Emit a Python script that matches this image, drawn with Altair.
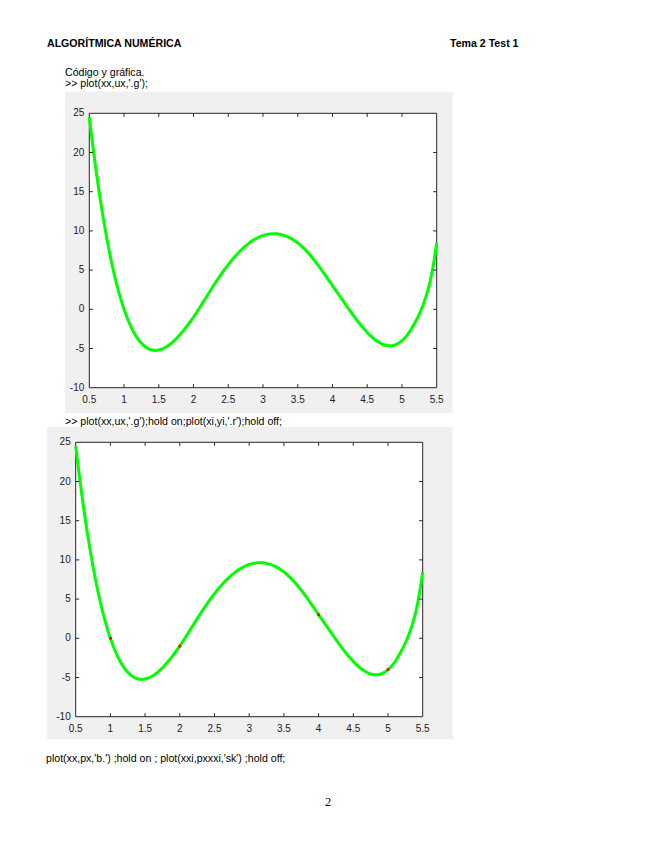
import altair as alt
import pandas as pd

# ---- data ----
xx = [round(0.5 + 0.05 * i, 2) for i in range(101)]
ux = [24.50, 20.89, 17.53, 14.46, 11.66, 9.13, 6.85, 4.81, 3.00, 1.40,
      0.00, -1.21, -2.23, -3.09, -3.79, -4.34, -4.75, -5.03, -5.20, -5.25,
      -5.20, -5.06, -4.84, -4.55, -4.18, -3.76, -3.28, -2.76, -2.20, -1.62,
      -1.00, -0.32, 0.38, 1.08, 1.79, 2.49, 3.19, 3.85, 4.49, 5.11,
      5.70, 6.26, 6.77, 7.25, 7.68, 8.08, 8.44, 8.76, 9.02, 9.25,
      9.42, 9.55, 9.62, 9.65, 9.63, 9.55, 9.43, 9.26, 9.04, 8.78,
      8.47, 8.09, 7.67, 7.20, 6.68, 6.13, 5.55, 4.94, 4.30, 3.66,
      3.00, 2.37, 1.73, 1.10, 0.46, -0.17, -0.78, -1.37, -1.93, -2.46,
      -2.95, -3.40, -3.79, -4.12, -4.37, -4.56, -4.65, -4.65, -4.55, -4.34,
      -4.00, -3.56, -3.00, -2.30, -1.50, -0.60, 0.45, 1.75, 3.35, 5.55,
      8.45]
xi = [1, 2, 4, 5]
yi = [0, -1, 3, -4]

x_tick_values = [0.5, 1, 1.5, 2, 2.5, 3, 3.5, 4, 4.5, 5, 5.5]
x_tick_labels = ["0.5", "1", "1.5", "2", "2.5", "3", "3.5", "4", "4.5", "5", "5.5"]
y_tick_values = [-10, -5, 0, 5, 10, 15, 20, 25]
y_tick_labels = ["-10", "-5", "0", "5", "10", "15", "20", "25"]

header_left = "ALGORÍTMICA NUMÉRICA"
header_right = "Tema 2 Test 1"
intro = "Código y gráfica."
cmd1 = ">> plot(xx,ux,'.g');"
cmd2 = ">> plot(xx,ux,'.g');hold on;plot(xi,yi,'.r');hold off;"
footer = "plot(xx,px,'b.') ;hold on ; plot(xxi,pxxxi,'sk') ;hold off;"
page_no = "2"

# ---- tables ----
curve = pd.DataFrame({"x": xx, "y": ux})
pts = pd.DataFrame({"x": xi, "y": yi})
xt = pd.DataFrame({"v": x_tick_values, "lab": x_tick_labels})
yt = pd.DataFrame({"v": y_tick_values, "lab": y_tick_labels})
xt_in = xt[(xt.v > 0.5) & (xt.v < 5.5)]
yt_in = yt[(yt.v > -10) & (yt.v < 25)]
one = pd.DataFrame({"k": [0]})

W, H = 620, 800
FONT = "Liberation Sans"
GREEN = "#00ff00"
AX = "#262626"
TICK = 3.5


def xs(r):
    return alt.Scale(domain=[0.5, 5.5], range=list(r), nice=False, zero=False)


def ys(r):
    return alt.Scale(domain=[-10, 25], range=list(r), nice=False, zero=False)


def rect(x0, x1, y0, y1, fill, stroke=None):
    kw = dict(fill=fill)
    if stroke:
        kw.update(stroke=stroke, strokeWidth=1)
    else:
        kw.update(strokeWidth=0)
    return alt.Chart(one).mark_rect(**kw).encode(
        x=alt.value(x0), x2=alt.value(x1), y=alt.value(y0), y2=alt.value(y1))


def text(s, x, y, size=10.6, weight="normal", align="left", font=FONT):
    return alt.Chart(one).mark_text(
        text=s, align=align, baseline="middle", font=font, fontSize=size,
        fontWeight=weight, color="black").encode(x=alt.value(x), y=alt.value(y))


def panel(X, Y, gray, with_points):
    L, R = X
    B, T = Y
    layers = [
        rect(gray[0], gray[1], gray[2], gray[3], "#f0f0f0"),
        rect(L, R, T, B, "white", AX),
        alt.Chart(curve).mark_line(color=GREEN, strokeWidth=3, interpolate="monotone").encode(
            x=alt.X("x:Q", scale=xs(X), axis=None),
            y=alt.Y("y:Q", scale=ys(Y), axis=None)),
    ]
    if with_points:
        layers.append(alt.Chart(pts).mark_square(color="red", size=7, opacity=1).encode(
            x=alt.X("x:Q", scale=xs(X), axis=None),
            y=alt.Y("y:Q", scale=ys(Y), axis=None)))
    # inward ticks on all four sides
    for (y0, y1) in [(B, B - TICK), (T, T + TICK)]:
        layers.append(alt.Chart(xt_in).mark_rule(color=AX, strokeWidth=1).encode(
            x=alt.X("v:Q", scale=xs(X), axis=None), y=alt.value(y0), y2=alt.value(y1)))
    for (x0, x1) in [(L, L + TICK), (R, R - TICK)]:
        layers.append(alt.Chart(yt_in).mark_rule(color=AX, strokeWidth=1).encode(
            y=alt.Y("v:Q", scale=ys(Y), axis=None), x=alt.value(x0), x2=alt.value(x1)))
    # tick labels
    layers.append(alt.Chart(xt).mark_text(font=FONT, fontSize=10, color="#222",
                                          align="center", baseline="middle").encode(
        x=alt.X("v:Q", scale=xs(X), axis=None), y=alt.value(B + 12.5), text="lab:N"))
    layers.append(alt.Chart(yt).mark_text(font=FONT, fontSize=10, color="#222",
                                          align="right", baseline="middle").encode(
        y=alt.Y("v:Q", scale=ys(Y), axis=None), x=alt.value(L - 5), text="lab:N"))
    return layers


# chart coordinates = page coordinates - 8
p1 = panel((81.3, 428.7), (379.7, 105.3), (57, 444.7, 83.7, 405.3), False)
p2 = panel((67.7, 414.7), (708.7, 434.3), (38.7, 444.7, 418.7, 731.3), True)

texts = [
    text(header_left, 39, 36, size=10.6, weight="bold"),
    text(header_right, 442, 36, size=10.6, weight="bold"),
    text(intro, 57, 65),
    text(cmd1, 57, 76),
    text(cmd2, 57, 414),
    text(footer, 38, 751),
    text(page_no, 320, 794, size=12.5, align="center", font="Liberation Serif"),
]

chart = alt.layer(*(p1 + p2 + texts)).resolve_scale(
    x="independent", y="independent"
).properties(
    width=W, height=H, padding=0,
    autosize=alt.AutoSizeParams(type="none"),
    background="white",
).configure_view(strokeOpacity=0, strokeWidth=0)

chart.save("out.html", embed_options={"renderer": "svg", "actions": False})
